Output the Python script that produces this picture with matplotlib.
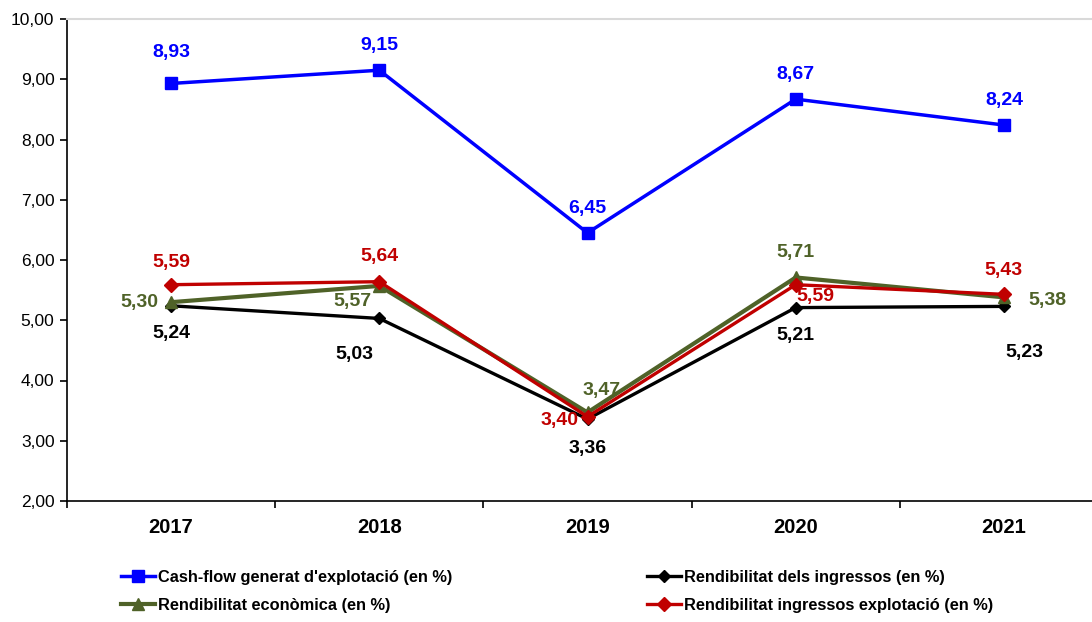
import matplotlib
matplotlib.use("Agg")
import matplotlib.pyplot as plt

plt.rcParams["font.family"] = ["Liberation Sans", "DejaVu Sans"]

years = ["2017", "2018", "2019", "2020", "2021"]
cash_flow = [8.93, 9.15, 6.45, 8.67, 8.24]
rend_ingressos = [5.24, 5.03, 3.36, 5.21, 5.23]
rend_economica = [5.30, 5.57, 3.47, 5.71, 5.38]
rend_explotacio = [5.59, 5.64, 3.40, 5.59, 5.43]

series_names = [
    "Cash-flow generat d'explotació (en %)",
    "Rendibilitat dels ingressos (en %)",
    "Rendibilitat econòmica (en %)",
    "Rendibilitat ingressos explotació (en %)",
]


def fmt(v):
    return f"{v:.2f}".replace(".", ",")


fig = plt.figure(figsize=(10.92, 6.22), dpi=100)
# plot area runs past the right edge of the figure, as in the original
ax = fig.add_axes([67 / 1092, 121 / 622, 1041 / 1092, 482 / 622])

x = list(range(len(years)))

styles = [
    (cash_flow, "#0000ff", "s", 8, 2.5),
    (rend_ingressos, "#000000", "D", 6.5, 2.4),
    (rend_economica, "#4f6228", "^", 8.5, 3.0),
    (rend_explotacio, "#c00000", "D", 7, 2.4),
]

handles = []
for (vals, color, mk, ms, lw), name in zip(styles, series_names):
    h, = ax.plot(x, vals, color=color, marker=mk, markersize=ms, linewidth=lw,
                 label=name, clip_on=False)
    handles.append(h)

# label offsets in pixels (dx, dy)
offsets = [
    [(0, 31), (0, 25), (0, 24), (0, 25), (0, 25)],
    [(0, -28), (-25, -36), (0, -29), (0, -28), (20, -46)],
    [(-32, 0), (-27, -16), (14, 22), (0, 25), (44, -3)],
    [(0, 22), (0, 25), (-28, -4), (20, -12), (0, 24)],
]
for (vals, color, mk, ms, lw), offs in zip(styles, offsets):
    for i, v in enumerate(vals):
        ax.annotate(fmt(v), (i, v), xytext=offs[i], textcoords="offset pixels",
                    ha="center", va="center", color=color, fontsize=14,
                    fontweight="bold")

ax.set_xlim(-0.5, len(years) - 0.5)
ax.set_ylim(2, 10)
ax.set_yticks([2, 3, 4, 5, 6, 7, 8, 9, 10])
ax.set_yticklabels([fmt(v) for v in [2, 3, 4, 5, 6, 7, 8, 9, 10]], fontsize=12.5)

ax.set_xticks(x)
ax.set_xticklabels(years, fontsize=14.5, fontweight="bold")
ax.tick_params(axis="x", which="major", length=0, pad=12)
ax.set_xticks([i - 0.5 for i in range(len(years) + 1)], minor=True)
ax.tick_params(axis="x", which="minor", length=5, width=1.2, direction="out")
ax.tick_params(axis="y", length=5, width=1.2, direction="out", pad=4)

ax.spines["right"].set_visible(False)
ax.spines["top"].set_color("#d9d9d9")
ax.spines["top"].set_linewidth(1.5)
ax.spines["left"].set_linewidth(1.2)
ax.spines["bottom"].set_linewidth(1.2)

leg = fig.legend(handles=[handles[0], handles[2], handles[1], handles[3]],
                 labels=[series_names[0], series_names[2], series_names[1], series_names[3]],
                 loc="upper left", bbox_to_anchor=(106 / 1092, 1 - 555 / 622),
                 ncol=2, frameon=False, handlelength=2.1, handletextpad=0.15,
                 columnspacing=11.9, labelspacing=0.8,
                 prop={"size": 11.8, "weight": "bold"})

fig.savefig("out.png", dpi=100)
